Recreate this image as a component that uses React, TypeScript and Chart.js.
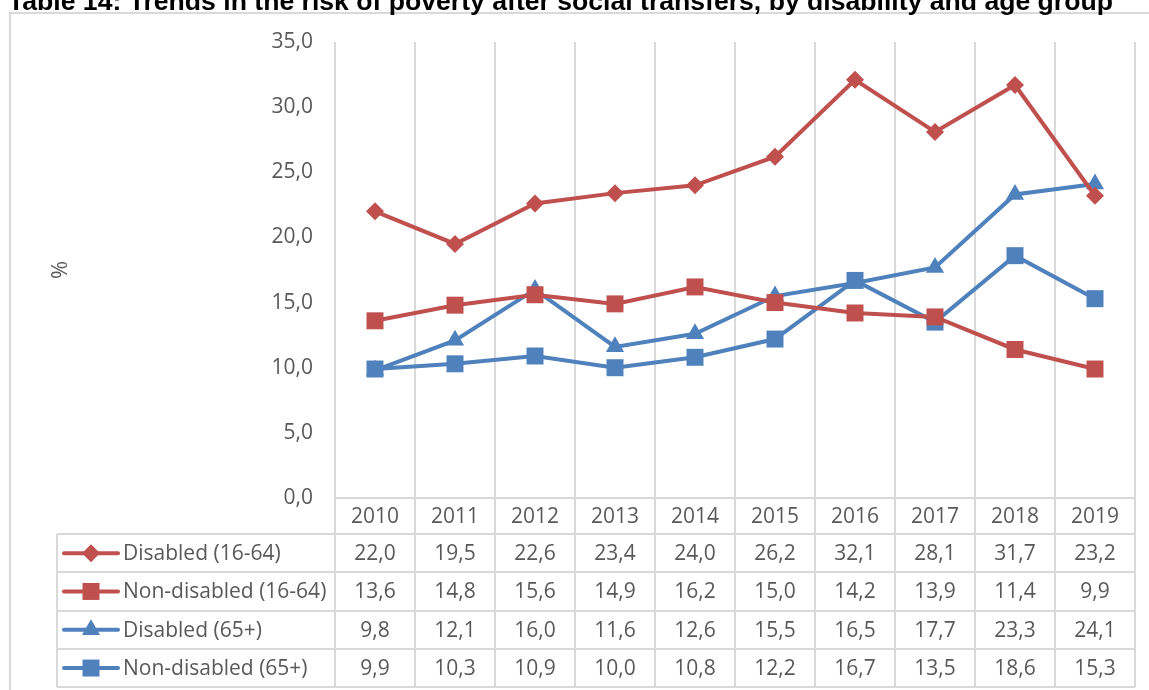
import React, { useEffect, useRef } from "react";
import { Chart, registerables } from "chart.js";

Chart.register(...registerables);

const TITLE = "Table 14: Trends in the risk of poverty after social transfers, by disability and age group";
const Y_LABEL = "%";
const years = ["2010", "2011", "2012", "2013", "2014", "2015", "2016", "2017", "2018", "2019"];
const seriesNames = ["Disabled (16-64)", "Non-disabled (16-64)", "Disabled (65+)", "Non-disabled (65+)"];
const disabled1664 = [22.0, 19.5, 22.6, 23.4, 24.0, 26.2, 32.1, 28.1, 31.7, 23.2];
const nonDisabled1664 = [13.6, 14.8, 15.6, 14.9, 16.2, 15.0, 14.2, 13.9, 11.4, 9.9];
const disabled65 = [9.8, 12.1, 16.0, 11.6, 12.6, 15.5, 16.5, 17.7, 23.3, 24.1];
const nonDisabled65 = [9.9, 10.3, 10.9, 10.0, 10.8, 12.2, 16.7, 13.5, 18.6, 15.3];
const yMin = 0;
const yMax = 35;
const yStep = 5;

const RED = "#C0504D";
const BLUE = "#4F81BD";
const GRID = "#D9D9D9";
const TEXT = "#595959";
const FONT = "'Open Sans', 'Noto Sans', sans-serif";
const FONT_SIZE = 21;

const seriesValues = [disabled1664, nonDisabled1664, disabled65, nonDisabled65];
const seriesColors = [RED, RED, BLUE, BLUE];
const seriesShapes = ["rectRot", "rect", "triangle", "rect"];
const seriesRadius = [9, 12, 10.5, 12];

const fmt = (v: number) => v.toFixed(1).replace(".", ",");

function drawShape(ctx: CanvasRenderingContext2D, shape: string, x: number, y: number, r: number) {
  ctx.beginPath();
  if (shape === "rect") {
    const s = Math.SQRT1_2 * r;
    ctx.rect(x - s, y - s, 2 * s, 2 * s);
  } else if (shape === "rectRot") {
    ctx.moveTo(x - r, y);
    ctx.lineTo(x, y + r);
    ctx.lineTo(x + r, y);
    ctx.lineTo(x, y - r);
    ctx.closePath();
  } else if (shape === "triangle") {
    const a = -Math.PI / 2;
    const pts = [0, 1, 2].map((k) => a + (k * 2 * Math.PI) / 3);
    ctx.moveTo(x + Math.cos(pts[0]) * r, y + Math.sin(pts[0]) * r);
    ctx.lineTo(x + Math.cos(pts[1]) * r, y + Math.sin(pts[1]) * r);
    ctx.lineTo(x + Math.cos(pts[2]) * r, y + Math.sin(pts[2]) * r);
    ctx.closePath();
  }
  ctx.fill();
}

const TABLE_HEADER_BOTTOM = 534;
const ROW_H = 38.3;
const LEGEND_LEFT = 57;

const gridTablePlugin = {
  id: "gridTable",
  beforeDatasetsDraw(chart: any) {
    const ctx: CanvasRenderingContext2D = chart.ctx;
    const xs = chart.scales.x;
    const area = chart.chartArea;
    const n = years.length;
    const colW = xs.getPixelForValue(1) - xs.getPixelForValue(0);
    const left = xs.getPixelForValue(0) - colW / 2;
    const right = xs.getPixelForValue(n - 1) + colW / 2;
    const tableBottom = TABLE_HEADER_BOTTOM + ROW_H * seriesNames.length;
    ctx.save();
    ctx.strokeStyle = GRID;
    ctx.lineWidth = 2;
    // outer frame
    ctx.beginPath();
    ctx.moveTo(10, 700);
    ctx.lineTo(10, 13);
    ctx.lineTo(1160, 13);
    ctx.stroke();
    // vertical lines
    for (let i = 0; i <= n; i++) {
      const bx = Math.round(left + i * colW);
      ctx.beginPath();
      ctx.moveTo(bx, area.top);
      ctx.lineTo(bx, tableBottom);
      ctx.stroke();
    }
    // legend column left
    ctx.beginPath();
    ctx.moveTo(LEGEND_LEFT, TABLE_HEADER_BOTTOM);
    ctx.lineTo(LEGEND_LEFT, tableBottom);
    ctx.stroke();
    // horizontal lines
    ctx.beginPath();
    ctx.moveTo(left, area.bottom);
    ctx.lineTo(right, area.bottom);
    ctx.stroke();
    for (let r = 0; r <= seriesNames.length; r++) {
      const yy = Math.round(TABLE_HEADER_BOTTOM + r * ROW_H);
      ctx.beginPath();
      ctx.moveTo(LEGEND_LEFT, yy);
      ctx.lineTo(right, yy);
      ctx.stroke();
    }
    ctx.restore();
  },
  afterDraw(chart: any) {
    const ctx: CanvasRenderingContext2D = chart.ctx;
    const xs = chart.scales.x;
    const area = chart.chartArea;
    ctx.save();
    // title
    ctx.fillStyle = "#000000";
    ctx.font = "bold 26.6px 'Liberation Sans', Arial, sans-serif";
    ctx.textAlign = "left";
    ctx.textBaseline = "alphabetic";
    ctx.fillText(TITLE, 8, 10);
    // y label
    ctx.save();
    ctx.translate(61, 270);
    ctx.rotate(-Math.PI / 2);
    ctx.fillStyle = TEXT;
    ctx.font = `22px ${FONT}`;
    ctx.textAlign = "center";
    ctx.textBaseline = "middle";
    ctx.fillText(Y_LABEL, 0, 0);
    ctx.restore();
    // header
    ctx.fillStyle = TEXT;
    ctx.font = `${FONT_SIZE}px ${FONT}`;
    ctx.textAlign = "center";
    ctx.textBaseline = "middle";
    const headerMid = (area.bottom + TABLE_HEADER_BOTTOM) / 2 + 1;
    years.forEach((yr, i) => {
      ctx.fillText(yr, xs.getPixelForValue(i), headerMid);
    });
    // rows
    seriesNames.forEach((name, r) => {
      const cy = TABLE_HEADER_BOTTOM + r * ROW_H + ROW_H / 2 + 1;
      seriesValues[r].forEach((v, i) => {
        ctx.fillStyle = TEXT;
        ctx.textAlign = "center";
        ctx.fillText(fmt(v), xs.getPixelForValue(i), cy);
      });
      // swatch
      ctx.strokeStyle = seriesColors[r];
      ctx.lineWidth = 4;
      ctx.lineCap = "round";
      ctx.beginPath();
      ctx.moveTo(64, cy - 1);
      ctx.lineTo(118, cy - 1);
      ctx.stroke();
      ctx.fillStyle = seriesColors[r];
      drawShape(ctx, seriesShapes[r], 91, cy - 1, seriesRadius[r]);
      ctx.fillStyle = TEXT;
      ctx.textAlign = "left";
      ctx.fillText(name, 123, cy);
    });
    ctx.restore();
  },
};

export default function App() {
  const ref = useRef<HTMLCanvasElement | null>(null);
  useEffect(() => {
    if (!ref.current) return;
    const chart = new Chart(ref.current, {
      type: "line",
      data: {
        labels: years,
        datasets: seriesNames.map((name, i) => ({
          label: name,
          data: seriesValues[i],
          borderColor: seriesColors[i],
          backgroundColor: seriesColors[i],
          pointBackgroundColor: seriesColors[i],
          pointBorderColor: seriesColors[i],
          pointBorderWidth: 0,
          borderWidth: 4,
          pointStyle: seriesShapes[i] as any,
          pointRadius: seriesRadius[i],
          pointHoverRadius: seriesRadius[i],
          tension: 0,
          fill: false,
        })),
      },
      options: {
        responsive: false,
        animation: false,
        layout: { padding: { top: 42, right: 14, bottom: 192, left: 0 } },
        plugins: {
          legend: { display: false },
          tooltip: { enabled: false },
          title: { display: false },
        },
        scales: {
          x: {
            type: "category",
            offset: true,
            grid: { display: false },
            border: { display: false },
            ticks: { display: false },
            afterFit: (s: any) => {
              s.height = 0;
            },
          },
          y: {
            min: yMin,
            max: yMax,
            grid: { display: false },
            border: { display: false },
            ticks: {
              stepSize: yStep,
              padding: 14,
              color: TEXT,
              font: { family: FONT, size: FONT_SIZE },
              callback: (v: any) => fmt(Number(v)),
            },
            afterFit: (s: any) => {
              s.width = 335;
            },
          },
        },
      },
      plugins: [gridTablePlugin],
    });
    return () => chart.destroy();
  }, []);
  return (
    <div style={{ position: "fixed", left: 0, top: 0, width: 1149, height: 690, background: "#fff" }}>
      <canvas ref={ref} width={1149} height={690} />
    </div>
  );
}
